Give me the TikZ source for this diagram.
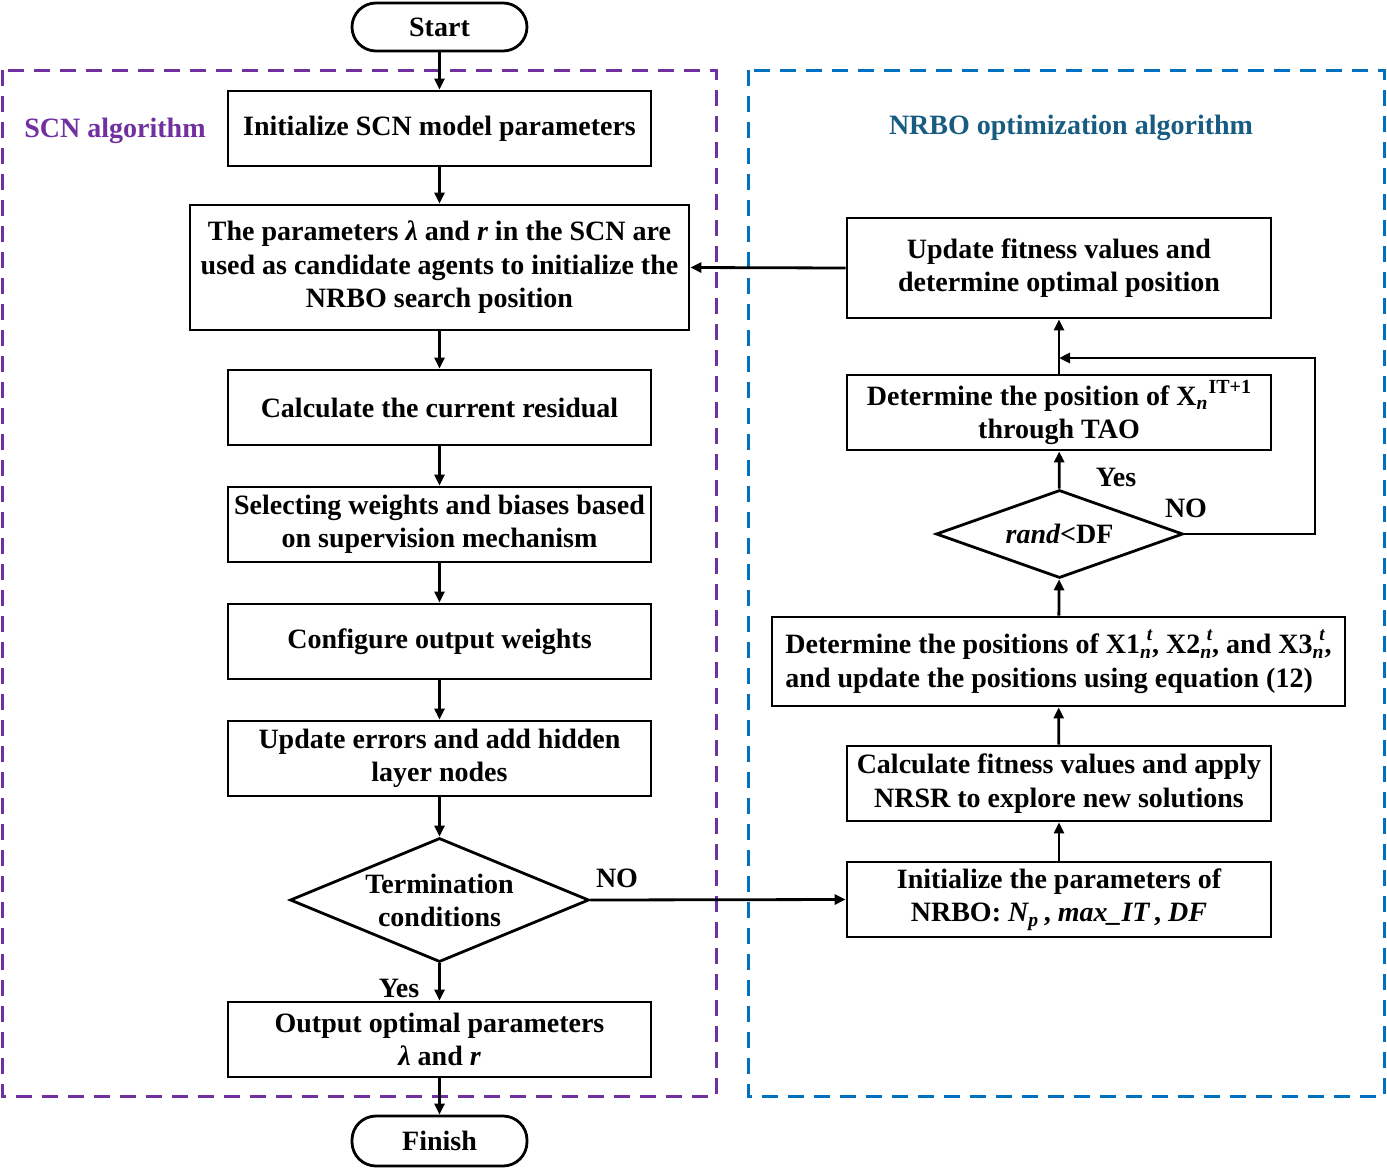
\documentclass[tikz,border=0pt]{standalone}
\usepackage{fontspec}
\setmainfont{Liberation Serif}
\usetikzlibrary{shapes.geometric,arrows.meta}
\definecolor{scnpurple}{RGB}{112,48,160}
\definecolor{nrboblue}{RGB}{0,112,192}
\definecolor{nrbotext}{RGB}{24,92,130}
\newcommand\subsupx[2]{\textsubscript{\itshape #1}\hspace{-2.6pt}\raisebox{1.05ex}{\fontsize{9.5pt}{9.5pt}\selectfont\itshape #2}}
\begin{document}
\begin{tikzpicture}[x=0.5pt,y=-0.5pt,
  every node/.style={font=\fontsize{14pt}{16.75pt}\selectfont\bfseries},
  procbox/.style={draw,line width=1.4pt,minimum width=211.5pt,minimum height=37.5pt,align=center,inner sep=2pt},
  term/.style={draw,line width=1.4pt,rounded corners=12pt,minimum width=87.5pt,minimum height=24pt},
  decision/.style={draw,line width=1.4pt,shape=diamond,inner sep=0pt},
  conn/.style={line width=1.4pt,-{Triangle[length=5.5pt,width=5pt]}},
  frame/.style={line width=1.5pt,dash pattern=on 8pt off 5pt}]
\useasboundingbox (0,0) rectangle (1387,1168);
% frames
\draw[frame,scnpurple] (2,70) rectangle (716,1096);
\draw[frame,nrboblue] (748,70) rectangle (1384,1096);
\node[text=scnpurple] (scnlabel) at (115,131) {SCN algorithm};
\node[text=nrbotext] (nrbolabel) at (1071,128) {NRBO optimization algorithm};
% left column
\node[term] (start) at (439.5,27) {Start};
\node[procbox] (b1) at (439.5,128.5) {Initialize SCN model parameters};
\node[procbox,minimum width=249.5pt,minimum height=62.5pt] (b2) at (439.5,267.5) {The parameters {\itshape λ} and {\itshape r} in the SCN are\\used as candidate agents to initialize the\\NRBO search position};
\node[procbox] (b3) at (439.5,407.5) {Calculate the current residual};
\node[procbox] (b4) at (439.5,524.5) {Selecting weights and biases based\\on supervision mechanism};
\node[procbox] (b5) at (439.5,641.5) {Configure output weights};
\node[procbox] (b6) at (439.5,758.5) {Update errors and add hidden\\layer nodes};
\node[decision,minimum width=149.5pt,minimum height=62pt] (td) at (439.5,900) {};
\node[align=center] (tdtext) at (439.5,900.5) {Termination\\conditions};
\node[procbox] (b7) at (439.5,1039.5) {Output optimal parameters\\{\itshape λ} and {\itshape r}};
\node[term,minimum height=25pt] (finish) at (439.5,1141) {Finish};
% right column
\node[procbox,minimum width=212pt,minimum height=50pt] (r1) at (1059,268) {Update fitness values and\\determine optimal position};
\node[procbox,minimum width=212pt] (r2) at (1059,412.5) {Determine the position of X\textsubscript{\itshape n}\raisebox{0.9ex}{\fontsize{10pt}{10pt}\selectfont IT+1}\\through TAO};
\node[decision,minimum width=123.5pt,minimum height=44pt] (rd) at (1059.5,534) {};
\node (rdtext) at (1059.5,534) {{\itshape rand}<DF};
\node[procbox,minimum width=286.5pt,minimum height=44.5pt,align=left] (r3) at (1058.5,661.5) {Determine the positions of X1\subsupx{n}{t}, X2\subsupx{n}{t}, and X3\subsupx{n}{t},\\and update the positions using equation (12)};
\node[procbox,minimum width=212pt] (r4) at (1059,783.5) {Calculate fitness values and apply\\NRSR to explore new solutions};
\node[procbox,minimum width=212pt] (r5) at (1059,899.5) {Initialize the parameters of\\NRBO: {\itshape N}\textsubscript{\itshape p}\,, {\itshape max\_IT}\,, {\itshape DF}};
% left connectors
\draw[conn] (start) -- (b1);
\draw[conn] (b1) -- (b2);
\draw[conn] (b2) -- (b3);
\draw[conn] (b3) -- (b4);
\draw[conn] (b4) -- (b5);
\draw[conn] (b5) -- (b6);
\draw[conn] (b6) -- (td);
\draw[conn] (td) -- (b7);
\draw[conn] (b7) -- (finish);
\node (yes1) at (399,988) {Yes};
\draw[conn] (td.east) -- (r5.west);
\node (no1) at (617,878) {NO};
% right connectors
\draw[conn] (r5) -- (r4);
\draw[conn] (r4) -- (r3);
\draw[conn] (r3) -- (rd);
\draw[conn] (rd) -- (r2);
\node (yes2) at (1116,477) {Yes};
\draw[conn] (r2) -- (r1);
\coordinate (loopc) at (1059,358);
\draw[conn] (rd.east) -- (1315,534) -- (1315,358) -- (loopc);
\node (no2) at (1186,508) {NO};
\draw[conn] (r1.west) -- (b2.east);
\end{tikzpicture}
\end{document}
